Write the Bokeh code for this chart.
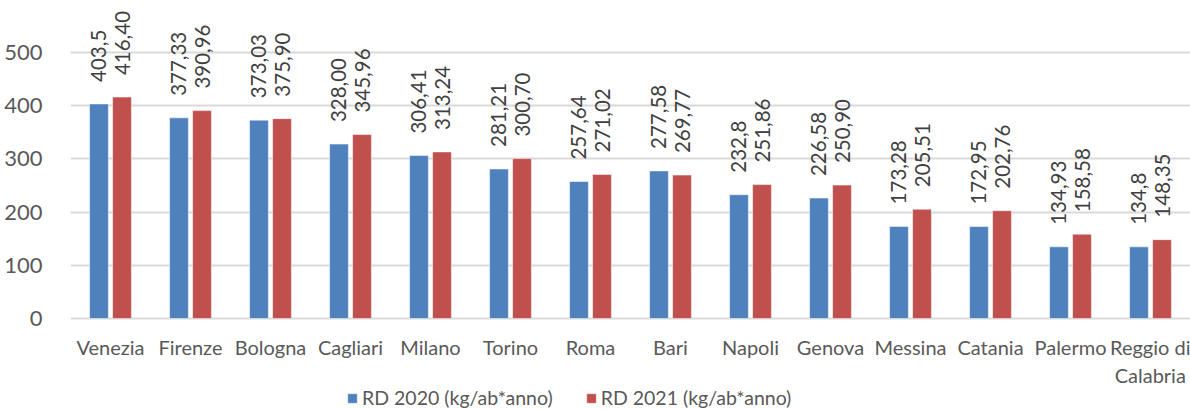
from bokeh.plotting import figure
from bokeh.models import ColumnDataSource, FixedTicker, Legend, LegendItem
from bokeh.transform import dodge
from bokeh.core.properties import value
from bokeh.embed import file_html
from bokeh.resources import INLINE

cities = ["Venezia", "Firenze", "Bologna", "Cagliari", "Milano", "Torino", "Roma",
          "Bari", "Napoli", "Genova", "Messina", "Catania", "Palermo", "Reggio di\nCalabria"]
rd2020 = [403.5, 377.33, 373.03, 328.00, 306.41, 281.21, 257.64,
          277.58, 232.8, 226.58, 173.28, 172.95, 134.93, 134.8]
rd2021 = [416.40, 390.96, 375.90, 345.96, 313.24, 300.70, 271.02,
          269.77, 251.86, 250.90, 205.51, 202.76, 158.58, 148.35]
lab2020 = ["403,5", "377,33", "373,03", "328,00", "306,41", "281,21", "257,64",
           "277,58", "232,8", "226,58", "173,28", "172,95", "134,93", "134,8"]
lab2021 = ["416,40", "390,96", "375,90", "345,96", "313,24", "300,70", "271,02",
           "269,77", "251,86", "250,90", "205,51", "202,76", "158,58", "148,35"]
series_names = ["RD 2020 (kg/ab*anno)", "RD 2021 (kg/ab*anno)"]
y_ticks = [0, 100, 200, 300, 400, 500]

FONT = "Lato"
BLUE = "#4f81bd"
RED = "#c0504d"

src = ColumnDataSource(dict(city=cities, a=rd2020, b=rd2021, la=lab2020, lb=lab2021))

# frame spans the whole height; the category axis sits at y = 0 inside it
p = figure(x_range=cities, y_range=(-171, 598), width=1190, height=409,
           output_backend="svg", toolbar_location=None,
           min_border_left=70, min_border_right=0, min_border_top=0, min_border_bottom=0)
p.outline_line_color = None

r1 = p.vbar(x=dodge("city", -0.144, range=p.x_range), top="a", bottom=0, width=0.235,
            source=src, fill_color=BLUE, line_color="white", line_alpha=0.5, line_width=1)
r2 = p.vbar(x=dodge("city", 0.144, range=p.x_range), top="b", bottom=0, width=0.235,
            source=src, fill_color=RED, line_color="white", line_alpha=0.5, line_width=1)

for col, lab, off in (("a", "la", -0.144), ("b", "lb", 0.144)):
    p.text(x=dodge("city", off, range=p.x_range), y=col, text=lab, source=src,
           angle=1.5708, text_align="left", text_baseline="middle",
           y_offset=-22, text_font=value(FONT), text_font_size="20.5px",
           text_color="#404040")

p.yaxis.ticker = FixedTicker(ticks=y_ticks)
p.yaxis.axis_line_color = None
p.yaxis.major_tick_line_color = None
p.yaxis.minor_tick_line_color = None
p.yaxis.major_label_standoff = 22
p.yaxis.major_label_text_font = FONT
p.yaxis.major_label_text_font_size = "22px"
p.yaxis.major_label_text_color = "#595959"

p.xaxis.fixed_location = 0
p.xaxis.axis_line_color = None
p.xaxis.major_tick_line_color = None
p.xaxis.major_label_standoff = 10
p.xaxis.major_label_text_font = FONT
p.xaxis.major_label_text_font_size = "20px"
p.xaxis.major_label_text_color = "#595959"

p.xgrid.grid_line_color = None
p.ygrid.grid_line_color = "#d9d9d9"
p.ygrid.grid_line_width = 2

legend = Legend(items=[LegendItem(label=series_names[0], renderers=[r1]),
                       LegendItem(label=series_names[1], renderers=[r2])],
                orientation="horizontal", location=(276, 0),
                glyph_width=12, glyph_height=12, label_standoff=4, spacing=32,
                padding=0, margin=0, border_line_color=None, background_fill_alpha=0,
                label_text_font=FONT, label_text_font_size="19.5px",
                label_text_color="#595959")
p.add_layout(legend, "center")

open("out.html", "w").write(file_html(p, INLINE))
